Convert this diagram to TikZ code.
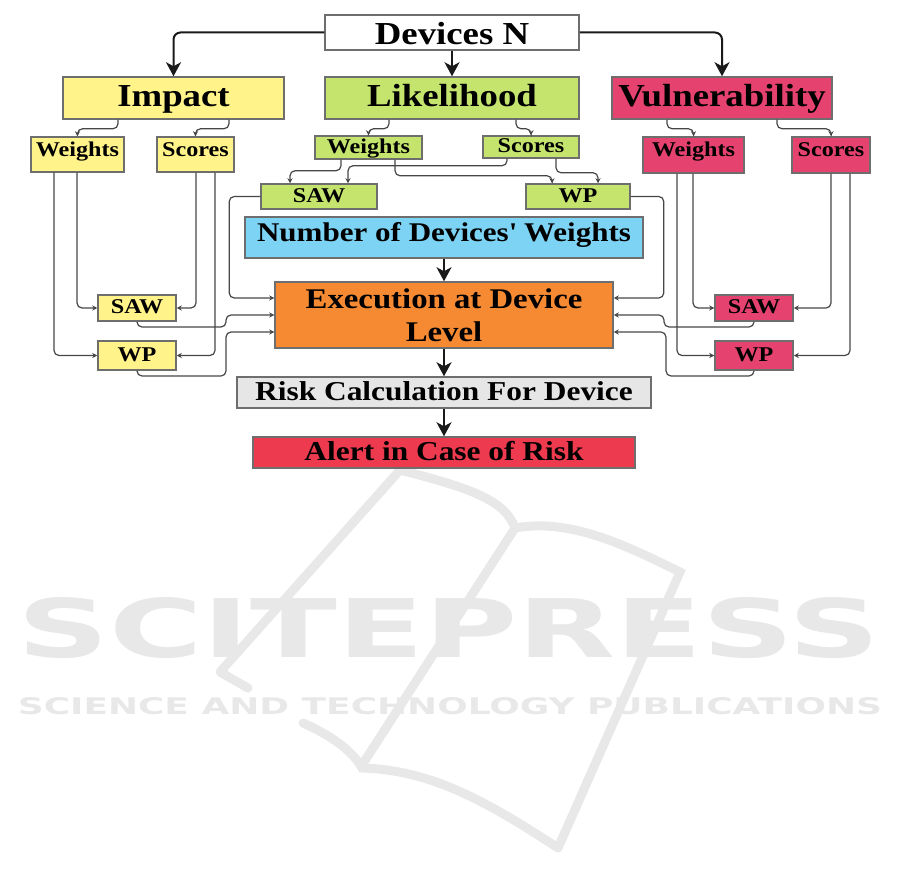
\documentclass[tikz,border=0pt]{standalone}
\usepackage{fontspec}
\setmainfont{Liberation Serif}[FakeStretch=1.15]
\newfontfamily\wmfont{DejaVu Sans}
\usepackage{graphicx}
\usetikzlibrary{arrows.meta}

\begin{document}
\begin{tikzpicture}[x=1pt,y=-1pt,
    box/.style={draw=r110g110b110, line width=1.5pt, inner sep=0pt},
    bigfont/.style={font=\fontsize{32}{36}\selectfont\bfseries, text height=22.4pt, text depth=4.8pt},
    smallfont/.style={font=\fontsize{21}{24}\selectfont\bfseries, text height=14.7pt, text depth=3.2pt},
    hightext/.style={text height=17pt, text depth=13pt},
    midfont/.style={font=\fontsize{27.3}{31}\selectfont\bfseries, text height=19.1pt, text depth=4.1pt},
    bigarrow/.style={line width=2pt, r26g26b26, rounded corners=7pt, -{Stealth[length=14pt,width=15pt,inset=4pt]}},
    smallarrow/.style={line width=1.2pt, r70g70b70, rounded corners=5pt, -{Stealth[length=5pt,width=5pt]}}]
    % \clip (0,0) rectangle (901,890);
    \useasboundingbox (0,0) rectangle (901,890);

    % Changing colors
    \definecolor{r110g110b110}{RGB}{110,110,110}%
    \definecolor{r26g26b26}{RGB}{26,26,26}%
    \definecolor{r70g70b70}{RGB}{70,70,70}%
    \definecolor{r255g243b138}{RGB}{255,243,138}%
    \definecolor{r197g228b110}{RGB}{197,228,110}%
    \definecolor{r229g66b111}{RGB}{229,66,111}%
    \definecolor{r125g211b244}{RGB}{125,211,244}%
    \definecolor{r245g138b51}{RGB}{245,138,51}%
    \definecolor{r230g230b230}{RGB}{230,230,230}%
    \definecolor{r238g58b78}{RGB}{238,58,78}%
    \definecolor{r232g232b232}{RGB}{232,232,232}%

    % Drawing watermark book
    \draw [r232g232b232, line width=9pt, line join=round, line cap=round] (400,470) -- (220,672) -- (248,688);%
    \draw [r232g232b232, line width=9pt, line cap=round] (400,470) .. controls (470,488) and (505,500) .. (515,528);%
    \draw [r232g232b232, line width=9pt, line cap=round] (515,528) .. controls (570,518) and (625,545) .. (680,572) -- (558,848);%
    \draw [r232g232b232, line width=9pt, line cap=round] (515,528) -- (362,765);%
    \draw [r232g232b232, line width=9pt, line cap=round] (303,723) .. controls (330,735) and (352,750) .. (362,768) .. controls (430,770) and (485,800) .. (558,848);%

    % Marking watermark text
    \node (wmTitle) at (449,628) [r232g232b232, inner sep=0pt] {\resizebox{862pt}{60pt}{\wmfont\bfseries SCITEPRESS}};%
    \node (wmSub) at (450,706.5) [r232g232b232, inner sep=0pt] {\resizebox{864pt}{17pt}{\wmfont\bfseries SCIENCE AND TECHNOLOGY PUBLICATIONS}};%

    % Marking box Devices N
    \node (devices) at (452.0,32.5) [box, bigfont, text height=27pt, text depth=2pt, fill=white, minimum width=254, minimum height=35] {Devices N};%

    % Marking boxes Impact, Likelihood, Vulnerability
    \node (impact) at (173.5,98.0) [box, bigfont, fill=r255g243b138, minimum width=221, minimum height=42] {Impact};%
    \node (likelihood) at (452.0,98.0) [box, bigfont, fill=r197g228b110, minimum width=254, minimum height=42] {Likelihood};%
    \node (vulner) at (722.0,98.0) [box, bigfont, fill=r229g66b111, minimum width=220, minimum height=42] {Vulnerability};%

    % Marking boxes Weights and Scores
    \node (impW) at (77.5,154.5) [box, smallfont, hightext, fill=r255g243b138, minimum width=93, minimum height=35] {Weights};%
    \node (impS) at (195.5,154.5) [box, smallfont, hightext, fill=r255g243b138, minimum width=77, minimum height=35] {Scores};%
    \node (likW) at (368.5,147.5) [box, smallfont, fill=r197g228b110, minimum width=107, minimum height=23] {Weights};%
    \node (likS) at (531.0,147.0) [box, smallfont, fill=r197g228b110, minimum width=96, minimum height=22] {Scores};%
    \node (vulW) at (693.5,155.0) [box, smallfont, hightext, fill=r229g66b111, minimum width=101, minimum height=36] {Weights};%
    \node (vulS) at (831.0,155.0) [box, smallfont, hightext, fill=r229g66b111, minimum width=78, minimum height=36] {Scores};%

    % Marking boxes SAW and WP
    \node (likSAW) at (319.0,196.5) [box, smallfont, fill=r197g228b110, minimum width=116, minimum height=25] {SAW};%
    \node (likWP) at (578.0,196.5) [box, smallfont, fill=r197g228b110, minimum width=104, minimum height=25] {WP};%
    \node (impSAW) at (137.0,308.0) [box, smallfont, fill=r255g243b138, minimum width=78, minimum height=26] {SAW};%
    \node (impWP) at (137.0,355.5) [box, smallfont, fill=r255g243b138, minimum width=78, minimum height=29] {WP};%
    \node (vulSAW) at (754.0,308.0) [box, smallfont, fill=r229g66b111, minimum width=78, minimum height=26] {SAW};%
    \node (vulWP) at (754.0,355.5) [box, smallfont, fill=r229g66b111, minimum width=78, minimum height=29] {WP};%

    % Marking boxes of the middle column
    \node (number) at (444.0,237.5) [box, font=\fontsize{27}{31}\selectfont\bfseries, text height=18.9pt, text depth=10pt, fill=r125g211b244, minimum width=398, minimum height=41] {Number of Devices\textquotesingle{} Weights};%
    \node (exec) at (444.0,315.0) [box, align=center, font=\fontsize{28.5}{33}\selectfont\bfseries, fill=r245g138b51, minimum width=338, minimum height=66] {Execution at Device\\Level};%
    \node (risk) at (444.0,392.5) [box, midfont, fill=r230g230b230, minimum width=414, minimum height=31] {Risk Calculation For Device};%
    \node (alert) at (444.0,452.5) [box, midfont, fill=r238g58b78, minimum width=382, minimum height=31] {Alert in Case of Risk};%

    % Drawing arrows from Devices N
    \draw [bigarrow] (devices.west) -| (impact.north);%
    \draw [bigarrow] (devices.south) -- (likelihood.north);%
    \draw [bigarrow] (devices.east) -| (vulner.north);%

    % Drawing arrows of the middle column
    \draw [bigarrow] (number.south) -- (exec.north);%
    \draw [bigarrow] (exec.south) -- (risk.north);%
    \draw [bigarrow] (risk.south) -- (alert.north);%

    % Drawing arrows to Weights and Scores
    \draw [smallarrow] ([xshift=-55.5pt]impact.south) -- ++(0,9) -| (impW.north);%
    \draw [smallarrow] ([xshift=55.5pt]impact.south) -- ++(0,9) -| (impS.north);%
    \draw [smallarrow] ([xshift=-63pt]likelihood.south) -- ++(0,9) -| (likW.north);%
    \draw [smallarrow] ([xshift=64pt]likelihood.south) -- ++(0,9) -| (likS.north);%
    \draw [smallarrow] ([xshift=-55pt]vulner.south) -- ++(0,9) -| (vulW.north);%
    \draw [smallarrow] ([xshift=55pt]vulner.south) -- ++(0,9) -| (vulS.north);%

    % Drawing arrows to SAW and WP of Likelihood
    \draw [smallarrow] ([xshift=-27.5pt]likW.south) -- ++(0,11) -| ([xshift=-29pt]likSAW.north);%
    \draw [smallarrow] ([xshift=26.5pt]likW.south) -- ++(0,16) -| ([xshift=-26pt]likWP.north);%
    \draw [smallarrow] ([xshift=-24pt]likS.south) -- ++(0,7) -| ([xshift=29pt]likSAW.north);%
    \draw [smallarrow] ([xshift=25pt]likS.south) -- ++(0,14) -| ([xshift=20pt]likWP.north);%

    % Drawing arrows to SAW and WP of Impact
    \draw [smallarrow] ([xshift=-0.5pt]impW.south) |- (impSAW.west);%
    \draw [smallarrow] ([xshift=-23.5pt]impW.south) |- (impWP.west);%
    \draw [smallarrow] ([xshift=0.5pt]impS.south) |- (impSAW.east);%
    \draw [smallarrow] ([xshift=19.5pt]impS.south) |- (impWP.east);%

    % Drawing arrows to SAW and WP of Vulnerability
    \draw [smallarrow] ([xshift=-0.5pt]vulW.south) |- (vulSAW.west);%
    \draw [smallarrow] ([xshift=-16.5pt]vulW.south) |- (vulWP.west);%
    \draw [smallarrow] (vulS.south) |- (vulSAW.east);%
    \draw [smallarrow] ([xshift=19pt]vulS.south) |- (vulWP.east);%

    % Drawing arrows to Execution at Device Level
    \draw [smallarrow] (likSAW.west) -- ++(-31,0) |- ([yshift=17pt]exec.west);%
    \draw [smallarrow] (likWP.east) -- ++(33,0) |- ([yshift=17pt]exec.east);%
    \draw [smallarrow] (impSAW.south) |- (226,327) |- (exec.west);%
    \draw [smallarrow] (impWP.south) |- (226,376) |- ([yshift=-17pt]exec.west);%
    \draw [smallarrow] (vulSAW.south) |- (664,327) |- (exec.east);%
    \draw [smallarrow] (vulWP.south) |- (666,376) |- ([yshift=-17pt]exec.east);%
\end{tikzpicture}
\end{document}
